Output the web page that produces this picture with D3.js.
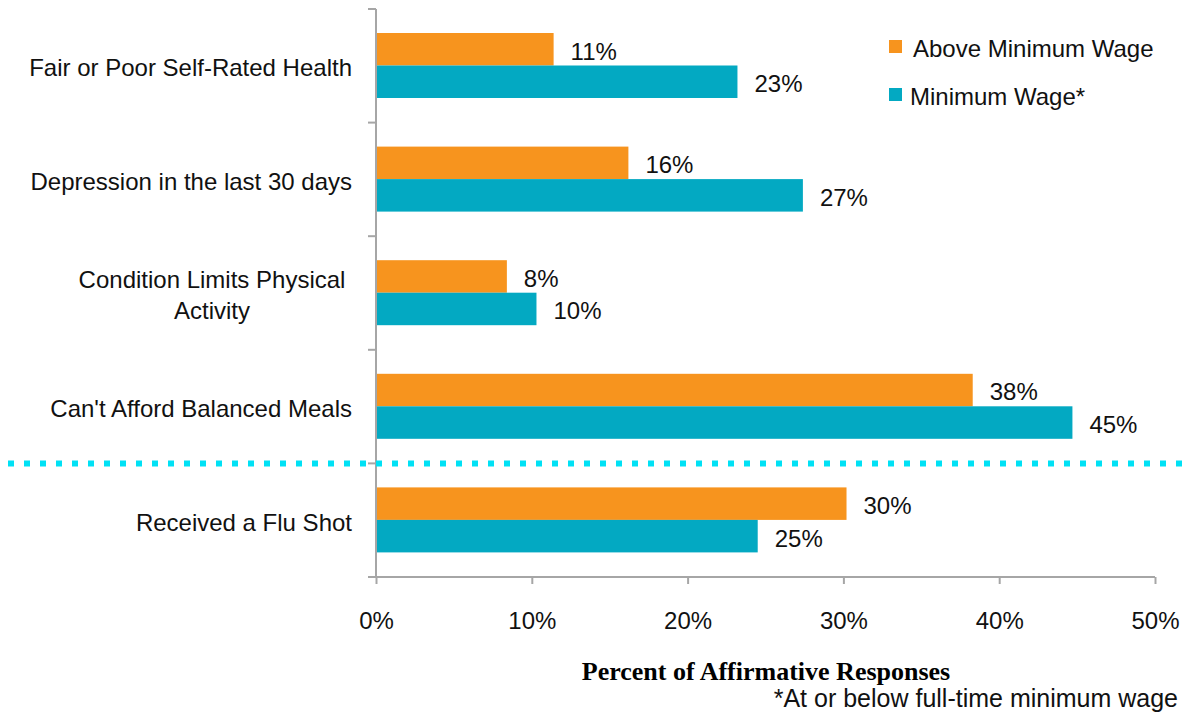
<!DOCTYPE html>
<html>
<head>
<meta charset="utf-8">
<script src="https://cdn.jsdelivr.net/npm/d3@7"></script>
<style>
  body { margin: 0; background: #fff; }
  svg { display: block; }
</style>
</head>
<body>
<div id="chart"></div>
<script>
// Chart data
const categories = [
    ["Fair or Poor Self-Rated Health"],
    ["Depression in the last 30 days"],
    ["Condition Limits Physical", "Activity"],
    ["Can't Afford Balanced Meals"],
    ["Received a Flu Shot"]
];
const seriesNames = ["Above Minimum Wage", "Minimum Wage*"];
const aboveMinWage = [11.4, 16.2, 8.4, 38.3, 30.2];
const minWage = [23.2, 27.4, 10.3, 44.7, 24.5];
const xTicks = [0, 10, 20, 30, 40, 50];

const colors = ["#F7941E", "#03A9C2"];
const axisGray = "#A6A6A6";
const sans = "'Liberation Sans', Arial, sans-serif";
const fs = "24px";

const W = 1185, H = 715;
const plotLeft = 376, plotRight = 1155, plotTop = 9, plotBottom = 577;

const svg = d3.select("#chart")
    .append("svg")
    .attr("width", W)
    .attr("height", H);

const x = d3.scaleLinear().domain([0, 50]).range([plotLeft, plotRight]);

const catKeys = categories.map(c => c.join(" "));
const y = d3.scaleBand().domain(catKeys).range([plotTop, plotBottom]);

// bars sit in the middle of each band
const ySub = d3.scaleBand()
    .domain(seriesNames)
    .range([24, y.bandwidth() - 24.6]);

const rows = catKeys.map((k, i) => ({
    key: k,
    lines: categories[i],
    values: [aboveMinWage[i], minWage[i]]
}));

// bars
const groups = svg.selectAll(".cat")
    .data(rows)
    .enter()
    .append("g")
    .attr("class", "cat")
    .attr("transform", d => `translate(0,${y(d.key)})`);

groups.selectAll("rect")
    .data(d => d.values.map((v, j) => ({v, s: seriesNames[j], j})))
    .enter()
    .append("rect")
    .attr("x", x(0))
    .attr("y", d => ySub(d.s))
    .attr("width", d => x(d.v) - x(0))
    .attr("height", ySub.bandwidth())
    .attr("fill", d => colors[d.j]);

groups.selectAll(".val")
    .data(d => d.values.map((v, j) => ({v, s: seriesNames[j], j})))
    .enter()
    .append("text")
    .attr("class", "val")
    .attr("x", d => x(d.v) + 17)
    .attr("y", d => ySub(d.s) + ySub.bandwidth() / 2 + 2)
    .attr("dy", "0.35em")
    .style("font-family", sans)
    .style("font-size", fs)
    .style("fill", "#111")
    .text(d => Math.round(d.v) + "%");

// y axis (line + ticks at band edges)
const yAxis = svg.append("g").attr("class", "y-axis");
yAxis.append("line")
    .attr("x1", plotLeft).attr("x2", plotLeft)
    .attr("y1", plotTop).attr("y2", plotBottom)
    .attr("stroke", axisGray).attr("stroke-width", 2);
const edges = catKeys.map(k => y(k)).concat([plotBottom]);
yAxis.selectAll(".tick")
    .data(edges)
    .enter()
    .append("line")
    .attr("x1", plotLeft - 8).attr("x2", plotLeft)
    .attr("y1", d => d).attr("y2", d => d)
    .attr("stroke", axisGray).attr("stroke-width", 2);

// category labels
rows.forEach(r => {
    const cy = y(r.key) + y.bandwidth() / 2 + 2;
    const lh = 31;
    if (r.lines.length === 1) {
        svg.append("text")
            .attr("x", 352)
            .attr("y", cy)
            .attr("dy", "0.35em")
            .attr("text-anchor", "end")
            .style("font-family", sans)
            .style("font-size", fs)
            .style("fill", "#111")
            .text(r.lines[0]);
    } else {
        const t = svg.append("text")
            .attr("text-anchor", "middle")
            .style("font-family", sans)
            .style("font-size", fs)
            .style("fill", "#111");
        t.append("tspan").attr("x", 212).attr("y", cy - lh / 2).attr("dy", "0.35em").text(r.lines[0]);
        t.append("tspan").attr("x", 212).attr("y", cy + lh / 2).attr("dy", "0.35em").text(r.lines[1]);
    }
});

// x axis
const xAxisG = svg.append("g")
    .attr("transform", `translate(0,${plotBottom})`)
    .call(d3.axisBottom(x).tickValues(xTicks).tickSize(7).tickSizeOuter(0).tickFormat(d => d + "%"));
xAxisG.select(".domain")
    .attr("stroke", axisGray).attr("stroke-width", 2)
    .attr("d", `M${plotLeft - 8},0H${plotRight}`);
xAxisG.selectAll(".tick line").attr("stroke", axisGray).attr("stroke-width", 2);
xAxisG.selectAll(".tick text")
    .attr("y", 35)
    .style("font-family", sans)
    .style("font-size", fs)
    .style("fill", "#111");

// dotted separator before the last category
const sepY = y(catKeys[4]);
svg.append("line")
    .attr("x1", 8).attr("x2", W)
    .attr("y1", sepY).attr("y2", sepY)
    .attr("stroke", "#00E1F5")
    .attr("stroke-width", 6)
    .attr("stroke-dasharray", "6,10");

// legend
const legend = svg.append("g").attr("transform", "translate(889,40)");
seriesNames.forEach((name, i) => {
    const g = legend.append("g").attr("transform", `translate(0,${i * 48})`);
    g.append("rect").attr("width", 13).attr("height", 13).attr("fill", colors[i]);
    g.append("text")
        .attr("x", i === 0 ? 24 : 21)
        .attr("y", 9)
        .attr("dy", "0.35em")
        .style("font-family", sans)
        .style("font-size", fs)
        .style("fill", "#111")
        .text(name);
});

// axis title and footnote
svg.append("text")
    .attr("x", 766)
    .attr("y", 680)
    .attr("text-anchor", "middle")
    .style("font-family", "'Liberation Serif', 'Times New Roman', serif")
    .style("font-weight", "bold")
    .style("font-size", "26px")
    .style("fill", "#000")
    .text("Percent of Affirmative Responses");

svg.append("text")
    .attr("x", 1178)
    .attr("y", 707)
    .attr("text-anchor", "end")
    .style("font-family", sans)
    .style("font-size", "25px")
    .style("fill", "#111")
    .text("*At or below full-time minimum wage");
</script>
</body>
</html>
